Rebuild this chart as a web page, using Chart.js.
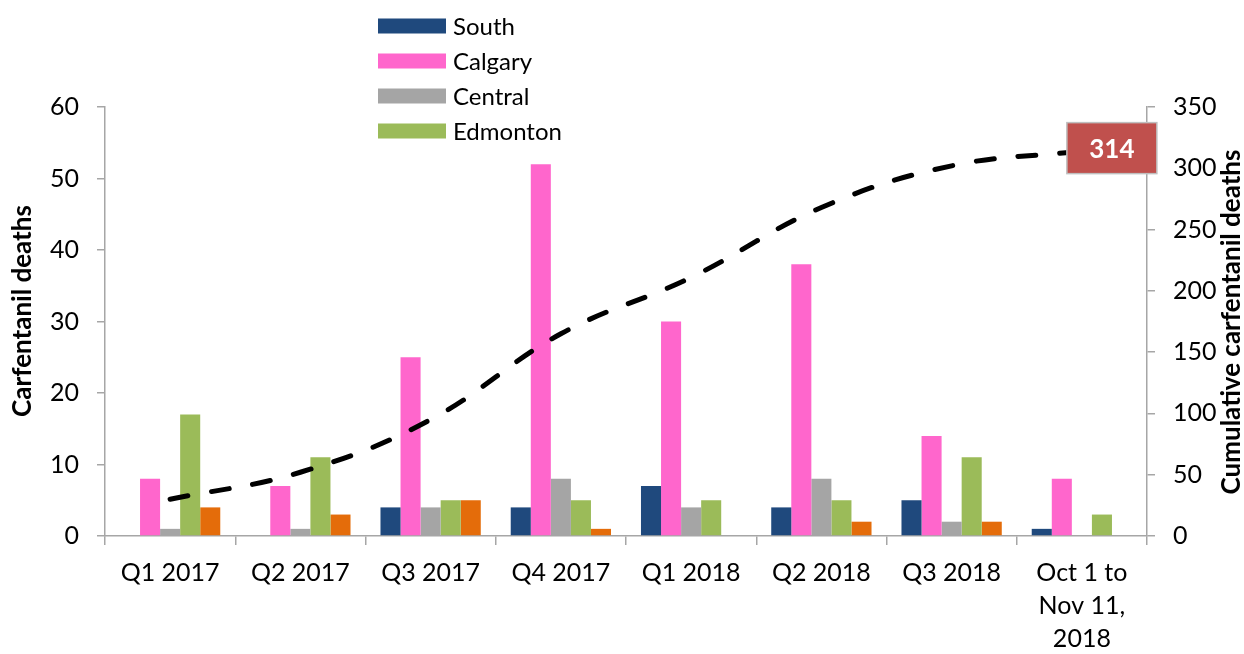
<!DOCTYPE html>
<html lang="en">
<head>
<meta charset="UTF-8">
<title>Carfentanil deaths by zone</title>
<style>
    body { margin: 0; background: #fff; }
    #wrap { width: 1244px; height: 654px; }
</style>
<script src="https://cdn.jsdelivr.net/npm/chart.js"></script>
</head>
<body>
<div id="wrap"><canvas id="chart"></canvas></div>
<script>
const quarters = ['Q1 2017', 'Q2 2017', 'Q3 2017', 'Q4 2017', 'Q1 2018', 'Q2 2018', 'Q3 2018', ['Oct 1 to', 'Nov 11,', '2018']];
const south    = [0, 0, 4, 4, 7, 4, 5, 1];
const calgary  = [8, 7, 25, 52, 30, 38, 14, 8];
const central  = [1, 1, 4, 8, 4, 8, 2, 0];
const edmonton = [17, 11, 5, 5, 5, 5, 11, 3];
const north    = [4, 3, 5, 1, 0, 2, 2, 0];
const cumulative = [30, 52, 95, 165, 211, 268, 302, 314];
const legendNames = ['South', 'Calgary', 'Central', 'Edmonton'];

const FONT = 'Lato';
const axisGray = '#A6A6A6';

function bar(label, data, color) {
    return { type: 'bar', label: label, data: data, backgroundColor: color, yAxisID: 'y', order: 1 };
}

// vertical legend up top, only the four named zones
const legendBox = {
    id: 'legendBox',
    afterDraw(chart) {
        const ctx = chart.ctx;
        ctx.save();
        ctx.font = '24px ' + FONT;
        ctx.textBaseline = 'middle';
        chart.data.datasets.filter(d => legendNames.includes(d.label)).forEach((ds, i) => {
            const y = 26 + i * 35;
            ctx.fillStyle = ds.backgroundColor;
            ctx.fillRect(378, y - 7.5, 68, 15);
            ctx.fillStyle = '#000';
            ctx.fillText(ds.label, 453, y + 1);
        });
        ctx.restore();
    }
};

// both axis titles read bottom to top
const axisTitles = {
    id: 'axisTitles',
    afterDraw(chart) {
        const ctx = chart.ctx;
        ctx.save();
        ctx.font = 'bold 26px ' + FONT;
        ctx.fillStyle = '#000';
        ctx.textAlign = 'center';
        ctx.textBaseline = 'middle';
        [[23, 311, 'Carfentanil deaths'], [1232, 322, 'Cumulative carfentanil deaths']].forEach(([x, y, t]) => {
            ctx.save();
            ctx.translate(x, y);
            ctx.rotate(-Math.PI / 2);
            ctx.fillText(t, 0, 0);
            ctx.restore();
        });
        ctx.restore();
    }
};

// red box with the last cumulative value
const lastValue = {
    id: 'lastValue',
    afterDraw(chart) {
        const idx = chart.data.datasets.findIndex(d => d.type === 'line');
        const meta = chart.getDatasetMeta(idx);
        const pt = meta.data[meta.data.length - 1];
        const v = chart.data.datasets[idx].data[meta.data.length - 1];
        const ctx = chart.ctx;
        const w = 90, h = 51, x0 = pt.x - 15, y0 = pt.y - h / 2 - 3;
        ctx.save();
        ctx.fillStyle = '#C0504D';
        ctx.fillRect(x0, y0, w, h);
        ctx.strokeStyle = '#BFBFBF';
        ctx.lineWidth = 1.5;
        ctx.strokeRect(x0, y0, w, h);
        ctx.fillStyle = '#fff';
        ctx.font = 'bold 26px ' + FONT;
        ctx.textAlign = 'center';
        ctx.textBaseline = 'middle';
        ctx.fillText(String(v), x0 + w / 2, y0 + h / 2 + 1);
        ctx.restore();
    }
};

const tickFont = { family: FONT, size: 25 };

new Chart(document.getElementById('chart'), {
    data: {
        labels: quarters,
        datasets: [
            {
                type: 'line',
                label: 'Cumulative',
                data: cumulative,
                yAxisID: 'y1',
                borderColor: '#000',
                borderWidth: 5,
                borderDash: [18, 24],
                borderCapStyle: 'round',
                tension: 0.4,
                pointRadius: 0,
                fill: false,
                order: 0
            },
            bar('South', south, '#1F497D'),
            bar('Calgary', calgary, '#FF66CC'),
            bar('Central', central, '#A5A5A5'),
            bar('Edmonton', edmonton, '#9BBB59'),
            bar('North', north, '#E46C0A')
        ]
    },
    options: {
        responsive: true,
        maintainAspectRatio: false,
        animation: false,
        layout: { padding: { top: 107, left: 0, right: 0, bottom: 0 } },
        datasets: { bar: { barPercentage: 1, categoryPercentage: 0.77 } },
        plugins: { legend: { display: false }, tooltip: { enabled: false } },
        scales: {
            x: {
                grid: { drawOnChartArea: false, tickLength: 9, color: axisGray, lineWidth: 1.5, offset: true },
                border: { color: axisGray, width: 1.5 },
                ticks: { color: '#000', font: { family: FONT, size: 25, lineHeight: 1.33 }, padding: 11, maxRotation: 0, autoSkip: false },
                afterFit(s) { s.height = 118; }
            },
            y: {
                position: 'left',
                min: 0, max: 60,
                grid: { drawOnChartArea: false, tickLength: 8, color: axisGray, lineWidth: 1.5 },
                border: { color: axisGray, width: 1.5 },
                ticks: { stepSize: 10, color: '#000', font: tickFont, padding: 18 },
                afterFit(s) { s.width = 105; }
            },
            y1: {
                position: 'right',
                min: 0, max: 350,
                grid: { drawOnChartArea: false, tickLength: 8, color: axisGray, lineWidth: 1.5 },
                border: { color: axisGray, width: 1.5 },
                ticks: { stepSize: 50, color: '#000', font: tickFont, padding: 18 },
                afterFit(s) { s.width = 97; }
            }
        }
    },
    plugins: [legendBox, axisTitles, lastValue]
});
</script>
</body>
</html>
